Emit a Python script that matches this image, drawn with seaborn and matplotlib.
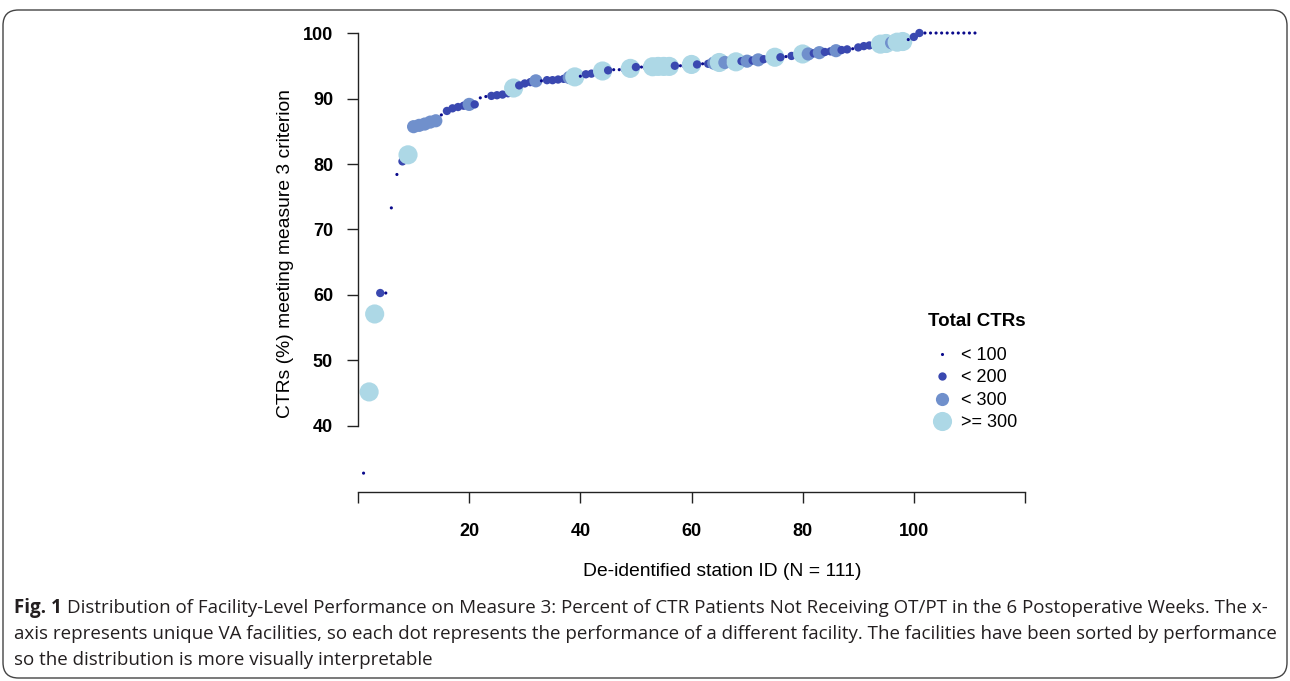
import numpy as np
import pandas as pd
import matplotlib
matplotlib.use("Agg")
import matplotlib.pyplot as plt
from matplotlib.lines import Line2D
from matplotlib.patches import FancyBboxPatch
import seaborn as sns

# performance (%) of each station, sorted
pct = [
    32.8, 45.2, 57.1, 60.3, 60.3, 73.3, 78.4, 80.4, 81.4, 85.7,
    85.9, 86.1, 86.4, 86.6, 87.5, 88.1, 88.5, 88.7, 88.9, 89.1,
    89.1, 90.1, 90.3, 90.4, 90.5, 90.6, 90.8, 91.6, 92.0, 92.3,
    92.5, 92.7, 92.7, 92.8, 92.8, 92.9, 93.0, 93.2, 93.3, 93.4,
    93.7, 93.8, 94.0, 94.2, 94.3, 94.4, 94.4, 94.5, 94.6, 94.8,
    94.8, 94.8, 94.85, 94.9, 94.9, 94.9, 95.0, 95.0, 95.1, 95.2,
    95.2, 95.3, 95.3, 95.4, 95.5, 95.5, 95.6, 95.6, 95.7, 95.7,
    95.8, 95.9, 96.0, 96.1, 96.3, 96.3, 96.4, 96.5, 96.6, 96.8,
    96.8, 96.9, 97.0, 97.1, 97.2, 97.3, 97.4, 97.5, 97.6, 97.8,
    98.0, 98.1, 98.2, 98.3, 98.4, 98.5, 98.6, 98.7, 99.0, 99.4,
    100, 100, 100, 100, 100, 100, 100, 100, 100, 100, 100,
]
# total CTR group code: 1 <100, 2 <200, 3 <300, 4 >=300
grp = [
    1, 4, 4, 2, 1, 1, 1, 2, 4, 3,
    3, 3, 3, 3, 1, 2, 2, 2, 2, 3,
    2, 1, 1, 2, 2, 2, 2, 4, 2, 2,
    2, 3, 1, 2, 2, 2, 2, 3, 4, 1,
    2, 2, 1, 4, 2, 1, 1, 2, 4, 2,
    1, 2, 4, 4, 4, 4, 2, 1, 2, 4,
    2, 1, 2, 3, 4, 3, 2, 4, 2, 3,
    2, 3, 2, 1, 4, 2, 1, 2, 1, 4,
    3, 2, 3, 2, 2, 3, 2, 2, 1, 2,
    2, 2, 2, 4, 4, 3, 4, 4, 1, 2,
    2, 1, 1, 1, 1, 1, 1, 1, 1, 1, 1,
]
group_labels = ["< 100", "< 200", "< 300", ">= 300"]
y_ticks = [40, 50, 60, 70, 80, 90, 100]
x_ticks = [0, 20, 40, 60, 80, 100, 120]

colors = {"< 100": "#0A0A8C", "< 200": "#3A48B0", "< 300": "#7090CC", ">= 300": "#ADD8E6"}
sizes = {"< 100": 5, "< 200": 36, "< 300": 90, ">= 300": 190}

df = pd.DataFrame({
    "station": np.arange(1, len(pct) + 1),
    "pct": pct,
    "Total CTRs": [group_labels[g - 1] for g in grp],
})

sns.set_style("white")
plt.rcParams["font.family"] = ["Liberation Sans", "DejaVu Sans"]
plt.rcParams["text.color"] = "black"
plt.rcParams["axes.labelcolor"] = "black"
plt.rcParams["xtick.color"] = "black"
plt.rcParams["ytick.color"] = "black"

fig = plt.figure(figsize=(12.9, 6.81), dpi=100)
W, H = 1290, 681
ax = fig.add_axes([358 / W, 1 - 492 / H, (1025 - 358) / W, (492 - 15) / H])

sns.scatterplot(data=df, x="station", y="pct", hue="Total CTRs", size="Total CTRs",
                palette=colors, sizes=sizes, hue_order=group_labels, size_order=group_labels,
                linewidth=0, legend=False, ax=ax)

ax.set_xlim(0, 120)
ax.set_ylim(29.92, 102.75)
for s in ["top", "right"]:
    ax.spines[s].set_visible(False)
ax.spines["left"].set_bounds(40, 100)
ax.spines["bottom"].set_bounds(0, 120)
for s in ["left", "bottom"]:
    ax.spines[s].set_color("#222222")
    ax.spines[s].set_linewidth(1.0)

ax.set_yticks(y_ticks)
ax.set_yticklabels([str(v) for v in y_ticks], fontsize=13, fontweight="bold")
ax.set_xticks(x_ticks)
ax.set_xticklabels(["" if v in (0, 120) else str(v) for v in x_ticks], fontsize=13, fontweight="bold")
ax.tick_params(axis="both", direction="out", length=8, width=1.0, color="#222222",
               bottom=True, left=True)
ax.tick_params(axis="y", pad=10)
ax.tick_params(axis="x", pad=14)

ax.set_xlabel("De-identified station ID (N = 111)", fontsize=13.9)
ax.xaxis.set_label_coords((722 - 358) / 667, (492 - 563) / 477)
ax.set_ylabel("CTRs (%) meeting measure 3 criterion", fontsize=13.9, labelpad=6)

# legend: title drawn separately to match the spacing
fig.text(977 / W, 1 - 322 / H, "Total CTRs", fontsize=13.5, fontweight="bold",
         ha="center", va="center")
handles = [Line2D([], [], marker="o", linestyle="", markersize=np.sqrt(sizes[g]),
                  markerfacecolor=colors[g], markeredgewidth=0) for g in group_labels]
ax.legend(handles, group_labels, frameon=False,
          loc="upper left", bbox_to_anchor=(922 / W, 1 - 338 / H),
          bbox_transform=fig.transFigure, fontsize=13, labelspacing=0.3,
          handletextpad=0.45, handlelength=1.2, borderpad=0)

# caption
cap_color = "#231F20"
cap_font = ["Open Sans", "DejaVu Sans"]
cap_fs = 13.5
t0 = fig.text(14 / W, 1 - 608 / H, "Fig. 1", fontsize=cap_fs, fontweight="bold",
              family=cap_font, color=cap_color, va="center", ha="left")
fig.canvas.draw()
bb = t0.get_window_extent()
rest = ("Distribution of Facility-Level Performance on Measure 3: Percent of CTR Patients "
        "Not Receiving OT/PT in the 6 Postoperative Weeks. The x-")
fig.text((bb.x1 + 5) / W, 1 - 608 / H, rest, fontsize=cap_fs, family=cap_font,
         color=cap_color, va="center", ha="left")
fig.text(14 / W, 1 - 634 / H,
         "axis represents unique VA facilities, so each dot represents the performance of a "
         "different facility. The facilities have been sorted by performance",
         fontsize=cap_fs, family=cap_font, color=cap_color, va="center", ha="left")
fig.text(14 / W, 1 - 660 / H, "so the distribution is more visually interpretable",
         fontsize=cap_fs, family=cap_font, color=cap_color, va="center", ha="left")

border = FancyBboxPatch((3 / W, 3 / H), 1284 / W, 668 / H,
                        boxstyle="round,pad=0,rounding_size=0.012",
                        transform=fig.transFigure, fill=False, edgecolor="#444444",
                        linewidth=1.0, mutation_aspect=W / H)
fig.patches.append(border)

fig.savefig("out.png", dpi=100)
